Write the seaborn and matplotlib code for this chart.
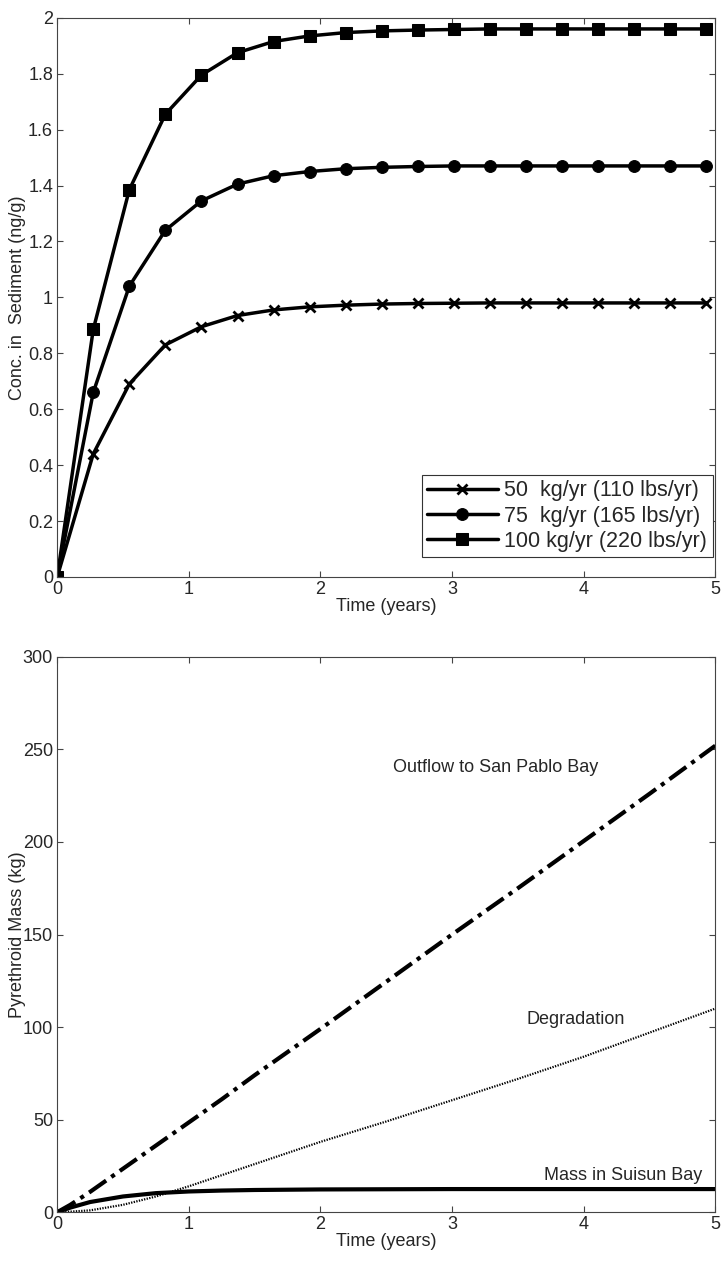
import numpy as np
import pandas as pd
import seaborn as sns
import matplotlib.pyplot as plt

sns.set_style("ticks")
plt.rcParams["font.family"] = ["Liberation Sans", "DejaVu Sans"]

# top panel: sediment concentration, one marker every 100 days
days = np.arange(0, 1801, 100)
time_top = days / 365.0
conc_50 = [0, 0.44, 0.69, 0.83, 0.895, 0.935, 0.955, 0.966, 0.972, 0.976,
           0.978, 0.979, 0.98, 0.98, 0.98, 0.98, 0.98, 0.98, 0.98]
conc_75 = [0, 0.66, 1.04, 1.24, 1.345, 1.405, 1.435, 1.45, 1.46, 1.465,
           1.468, 1.47, 1.47, 1.47, 1.47, 1.47, 1.47, 1.47, 1.47]
conc_100 = [0, 0.885, 1.385, 1.655, 1.795, 1.875, 1.915, 1.935, 1.947, 1.953,
            1.956, 1.958, 1.96, 1.96, 1.96, 1.96, 1.96, 1.96, 1.96]
labels_top = ["50  kg/yr (110 lbs/yr)", "75  kg/yr (165 lbs/yr)", "100 kg/yr (220 lbs/yr)"]

# bottom panel: mass budget
time_bot = [0, 0.1, 0.25, 0.5, 0.75, 1, 1.25, 1.5, 2, 2.5, 3, 3.5, 4, 4.5, 5]
outflow = [0, 4, 11, 23.5, 36, 48.5, 61, 74, 99, 124.5, 150, 175, 200.5, 226, 252]
degradation = [0, 0.3, 1, 4, 8.5, 14, 20, 26, 38, 49, 60.5, 72, 84, 97, 110]
suisun = [0, 2.5, 5.5, 8.5, 10.3, 11.2, 11.7, 12, 12.3, 12.4, 12.5, 12.5, 12.5, 12.5, 12.5]

fig = plt.figure(figsize=(7.24, 12.68), dpi=100)
ax1 = fig.add_axes([0.079, 0.545, 0.909, 0.441])
ax2 = fig.add_axes([0.079, 0.044, 0.909, 0.438])

df_top = pd.DataFrame({"t": time_top, "c50": conc_50, "c75": conc_75, "c100": conc_100})
sns.lineplot(data=df_top, x="t", y="c50", ax=ax1, color="k", lw=2.5, marker="x",
             markersize=7, markeredgewidth=2, markeredgecolor="k", label=labels_top[0])
sns.lineplot(data=df_top, x="t", y="c75", ax=ax1, color="k", lw=2.5, marker="o",
             markersize=8.5, markeredgecolor="k", label=labels_top[1])
sns.lineplot(data=df_top, x="t", y="c100", ax=ax1, color="k", lw=2.5, marker="s",
             markersize=8, markeredgecolor="k", label=labels_top[2])

ax1.set_xlim(0, 5)
ax1.set_ylim(0, 2)
ax1.set_yticks(np.arange(0, 2.01, 0.2))
ax1.set_yticklabels(["0", "0.2", "0.4", "0.6", "0.8", "1", "1.2", "1.4", "1.6", "1.8", "2"])
ax1.set_xlabel("Time (years)", fontsize=13, labelpad=0)
ax1.set_ylabel("Conc. in  Sediment (ng/g)", fontsize=13)
leg = ax1.legend(loc="lower right", bbox_to_anchor=(0.996, 0.035), fontsize=15.5,
                 frameon=True, fancybox=False, edgecolor="#333333", framealpha=1,
                 handlelength=3.3, borderpad=0.25, labelspacing=0.2,
                 handletextpad=0.3, borderaxespad=0)
leg.get_frame().set_linewidth(0.8)

df_bot = pd.DataFrame({"t": time_bot, "out": outflow, "deg": degradation, "mass": suisun})
sns.lineplot(data=df_bot, x="t", y="out", ax=ax2, color="k", lw=3, linestyle=(0, (5, 1.5, 1, 1.5)))
sns.lineplot(data=df_bot, x="t", y="deg", ax=ax2, color="k", lw=1.6, linestyle=(0, (0.6, 0.6)))
sns.lineplot(data=df_bot, x="t", y="mass", ax=ax2, color="k", lw=3)
ax2.set_xlim(0, 5)
ax2.set_ylim(0, 300)
ax2.set_yticks(np.arange(0, 301, 50))
ax2.set_xlabel("Time (years)", fontsize=13, labelpad=0)
ax2.set_ylabel("Pyrethroid Mass (kg)", fontsize=13)
ax2.text(3.33, 240, "Outflow to San Pablo Bay", fontsize=13, ha="center", va="center")
ax2.text(3.94, 104, "Degradation", fontsize=13, ha="center", va="center")
ax2.text(4.3, 20, "Mass in Suisun Bay", fontsize=13, ha="center", va="center")

for ax in (ax1, ax2):
    ax.set_xticks(range(6))
    ax.yaxis.set_label_coords(-0.048, 0.5)
    ax.tick_params(direction="in", top=True, right=True, labelsize=13, length=4,
                   width=0.8, color="#444444", pad=3)
    for s in ax.spines.values():
        s.set_visible(True)
        s.set_color("#444444")
        s.set_linewidth(0.8)

fig.savefig("out.png", dpi=100)
